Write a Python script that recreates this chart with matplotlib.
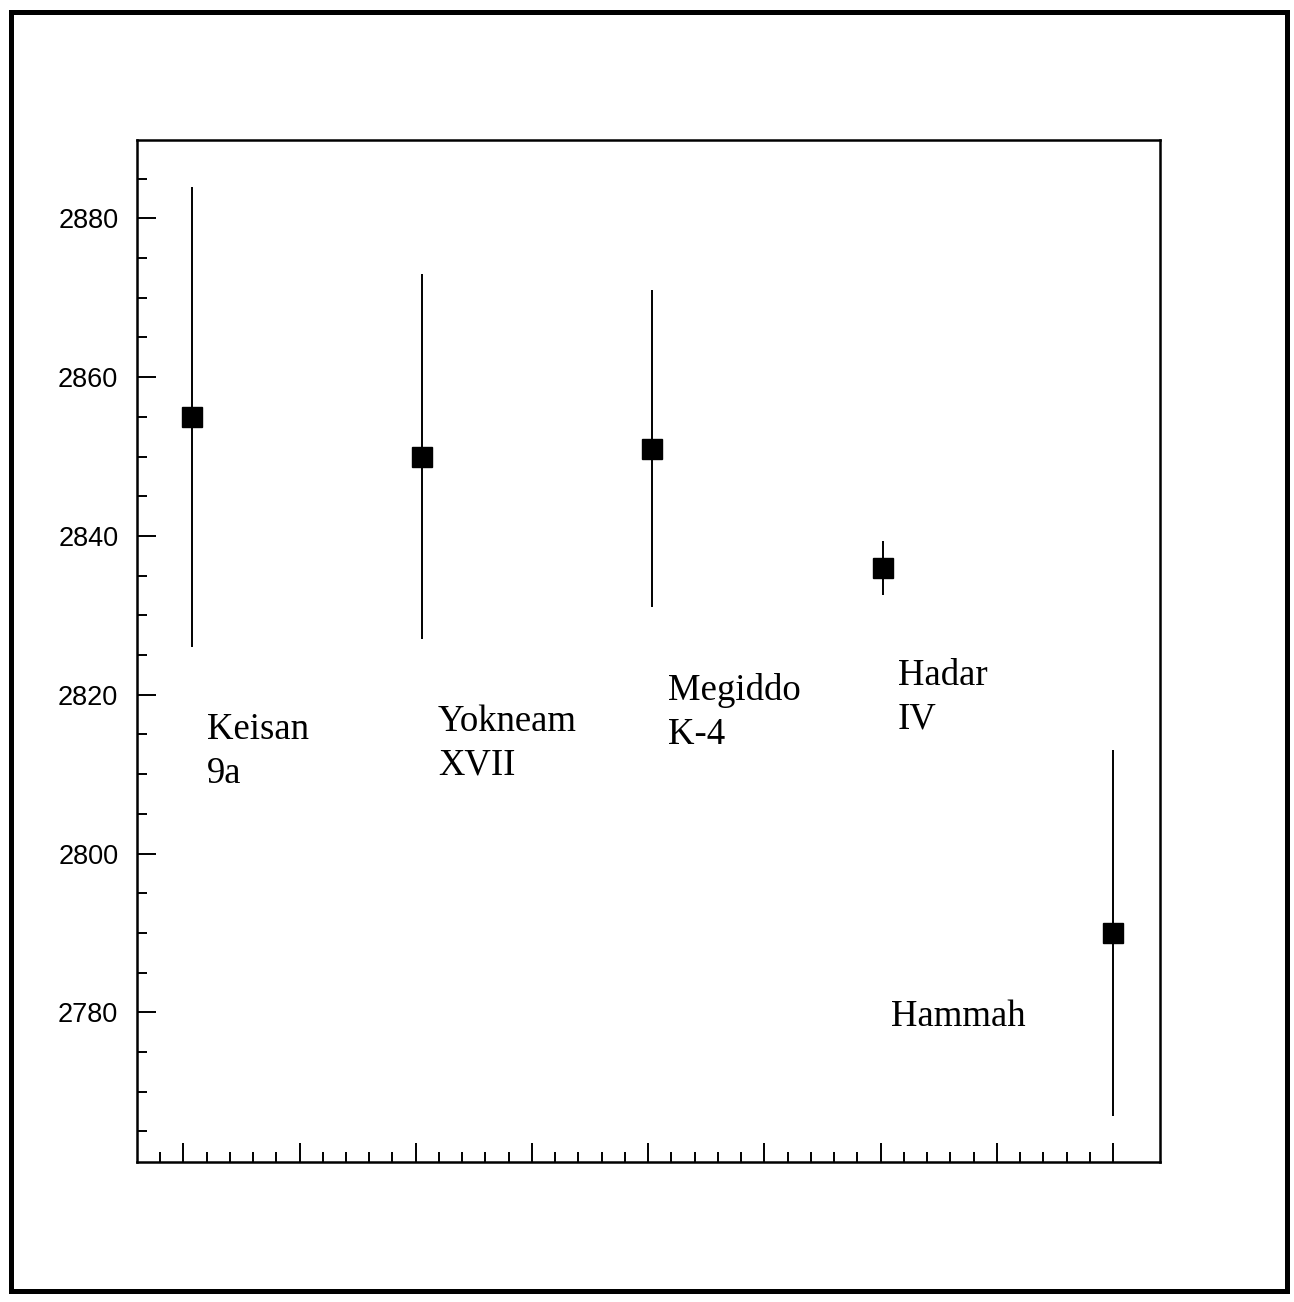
import matplotlib

matplotlib.use("Agg")

import matplotlib.pyplot as plt
import numpy as np
from matplotlib.patches import Rectangle


# sites, dates and half-widths of the error bars
sites = ["Keisan\n9a", "Yokneam\nXVII", "Megiddo\nK-4", "Hadar\nIV", "Hammah"]
site_index = [1, 2, 3, 4, 5]
values = [2855, 2850, 2851, 2836, 2790]
errors = [29, 23, 20, 3.4, 23]

# label anchors (left edge, baseline of last line) in data units
label_x = [1.066, 2.069, 3.068, 4.067, 4.036]
label_y = [2808.9, 2809.9, 2813.8, 2815.7, 2778.3]

W, H = 1294, 1302


def px_box(left, top, right, bottom):
    return [left / W, 1 - bottom / H, (right - left) / W, (bottom - top) / H]


def main():
    fig = plt.figure(figsize=(W / 100, H / 100), dpi=100)

    # outer frame round the whole picture
    frame = Rectangle((10.7 / W, 1 - 1290.8 / H), (1286.7 - 10.7) / W, (1290.8 - 11.7) / H,
                      transform=fig.transFigure, fill=False, lw=3.6, ec="black")
    fig.patches.append(frame)

    ax = fig.add_axes(px_box(137, 140, 1160, 1162))

    ax.errorbar(site_index, values, yerr=errors, fmt="s", color="black",
                ms=14.4, elinewidth=1.4, capsize=0)

    for name, x, y in zip(sites, label_x, label_y):
        ax.text(x, y, name, ha="left", va="baseline", fontsize=26.5,
                family="Liberation Serif", linespacing=1.36)

    step = 116.2 / 230.3
    ax.set_xticks(5 - step * np.arange(9))
    ax.set_xticks(5 - step / 5 * np.arange(44), minor=True)
    ax.set_yticks(np.arange(2780, 2881, 20))
    ax.set_yticks(np.arange(2765, 2890, 5), minor=True)

    ax.set_xlim(0.7625, 5.204)
    ax.set_ylim(2761.15, 2889.86)

    ax.tick_params(which="both", direction="in", width=1.4, top=False, right=False)
    ax.tick_params(which="major", length=14)
    ax.tick_params(which="minor", length=7)
    ax.tick_params(axis="x", labelbottom=False)
    ax.tick_params(axis="y", labelsize=19.5, pad=13.5)
    for label in ax.get_yticklabels():
        label.set_family("Liberation Sans")

    for spine in ax.spines.values():
        spine.set_linewidth(1.8)

    fig.savefig("out.png", dpi=100)
    plt.close(fig)


if __name__ == "__main__":
    main()
